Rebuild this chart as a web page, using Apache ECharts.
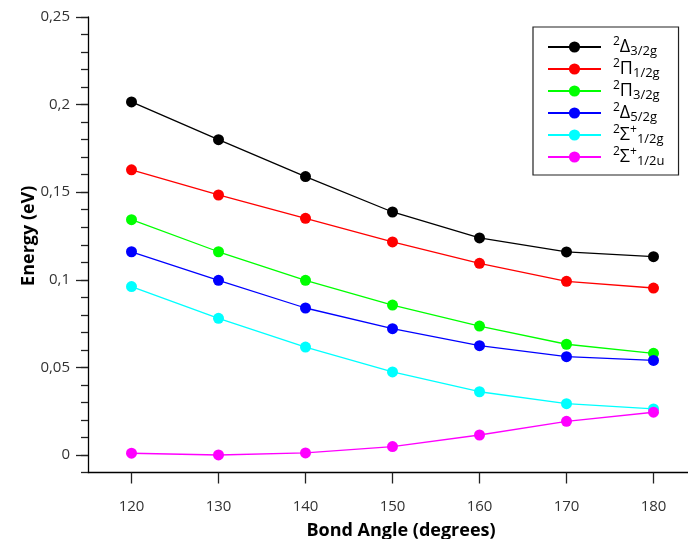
<!DOCTYPE html>
<html><head><meta charset="utf-8">
<script src="https://cdn.jsdelivr.net/npm/echarts@6/dist/echarts.min.js"></script>
<style>html,body{margin:0;padding:0;background:#fff}#c{width:688px;height:539px}</style>
</head><body><div id="c"></div>
<script>
const angles = [120, 130, 140, 150, 160, 170, 180];
const delta32 = [0.2015, 0.1800, 0.1589, 0.1387, 0.1239, 0.1159, 0.1132];
const pi12 = [0.1628, 0.1484, 0.1351, 0.1216, 0.1094, 0.0991, 0.0953];
const pi32 = [0.1343, 0.1160, 0.0997, 0.0856, 0.0736, 0.0632, 0.0580];
const delta52 = [0.1160, 0.0997, 0.0839, 0.0721, 0.0624, 0.0561, 0.0540];
const sigma12g = [0.0961, 0.0780, 0.0616, 0.0474, 0.0361, 0.0293, 0.0263];
const sigma12u = [0.0010, 0.0000, 0.0012, 0.0048, 0.0114, 0.0192, 0.0244];
const xTicks = [120, 130, 140, 150, 160, 170, 180];
const yTicks = [0, 0.05, 0.1, 0.15, 0.2, 0.25];
const seriesNames = ['D32', 'P12', 'P32', 'D52', 'S12g', 'S12u'];
const legendLabels = {
  D32: '{sup0|2}{main|Δ}{sub|3/2g}',
  P12: '{sup0|2}{main|Π}{sub|1/2g}',
  P32: '{sup0|2}{main|Π}{sub|3/2g}',
  D52: '{sup0|2}{main|Δ}{sub|5/2g}',
  S12g: '{sup0|2}{main|Σ}{sup|+}{sub|1/2g}',
  S12u: '{sup0|2}{main|Σ}{sup|+}{sub|1/2u}'
};
const seriesValues = [delta32, pi12, pi32, delta52, sigma12g, sigma12u];
const colors = ['#000000', '#ff0000', '#00ff00', '#0000ff', '#00ffff', '#ff00ff'];

const FONT = 'Open Sans';
const chart = echarts.init(document.getElementById('c'), null, {renderer: 'canvas'});
const series = seriesNames.map((n, i) => ({
  name: n,
  type: 'line',
  xAxisIndex: 0,
  yAxisIndex: 0,
  data: angles.map((a, j) => [a, seriesValues[i][j]]),
  symbol: 'circle',
  symbolSize: 11,
  showAllSymbol: true,
  lineStyle: {color: colors[i], width: 1.3},
  itemStyle: {color: colors[i]},
  emphasis: {disabled: true},
  clip: false
}));

chart.setOption({
  animation: false,
  backgroundColor: '#fff',
  grid: {left: 88, right: -9, top: 17, bottom: 66.5, containLabel: false, outerBoundsMode: 'none'},
  xAxis: [{
    type: 'value', min: 115, max: 185,
    axisLine: {show: true, onZero: false, lineStyle: {color: '#000', width: 1.3}},
    axisTick: {show: true, customValues: xTicks, length: 11, lineStyle: {color: '#222', width: 1.3}},
    axisLabel: {customValues: xTicks, margin: 27, fontSize: 15, color: '#333', fontFamily: FONT},
    splitLine: {show: false},
    name: 'Bond Angle (degrees)', nameLocation: 'middle', nameGap: 49, nameMoveOverlap: false,
    nameTextStyle: {fontSize: 18, fontWeight: 'bold', color: '#000', fontFamily: FONT, padding: [0, 0, 0, 17]}
  }],
  yAxis: [{
    type: 'value', min: -0.01, max: 0.25, position: 'left',
    axisLine: {show: true, onZero: false, lineStyle: {color: '#000', width: 1.3}},
    axisTick: {show: true, customValues: yTicks, length: 12, lineStyle: {color: '#222', width: 1.3}},
    axisLabel: {customValues: yTicks, margin: 18, fontSize: 15, color: '#333', fontFamily: FONT,
      formatter: v => String(v).replace('.', ',')},
    splitLine: {show: false},
    name: 'Energy (eV)', nameLocation: 'middle', nameGap: 50, nameMoveOverlap: false,
    nameTextStyle: {fontSize: 18, fontWeight: 'bold', color: '#000', fontFamily: FONT, padding: [0, 0, 0, 18]}
  }, {
    type: 'value', min: -0.01, max: 0.25, interval: 0.01, position: 'left',
    axisLine: {show: false, onZero: false},
    axisTick: {show: true, length: 7, lineStyle: {color: '#222', width: 1.3}},
    axisLabel: {show: false},
    splitLine: {show: false}
  }],
  legend: {
    orient: 'vertical', left: 533, top: 27,
    padding: [9, 14, 7, 14],
    itemGap: 0, itemWidth: 53, itemHeight: 14,
    borderColor: '#222', borderWidth: 1.2, borderRadius: 0,
    backgroundColor: '#fff',
    selectedMode: false,
    data: seriesNames,
    formatter: n => legendLabels[n],
    textStyle: {
      fontFamily: FONT, color: '#000',
      rich: {
        main: {fontSize: 18, lineHeight: 22, fontFamily: FONT, color: '#000'},
        sup0: {fontSize: 12, lineHeight: 12, verticalAlign: 'top', padding: [0, 0, 0, 7], fontFamily: FONT, color: '#000'},
        sup: {fontSize: 12, lineHeight: 12, verticalAlign: 'top', fontFamily: FONT, color: '#000'},
        sub: {fontSize: 13, lineHeight: 13, verticalAlign: 'bottom', fontFamily: FONT, color: '#000'}
      }
    }
  },
  series: series
});
</script></body></html>
